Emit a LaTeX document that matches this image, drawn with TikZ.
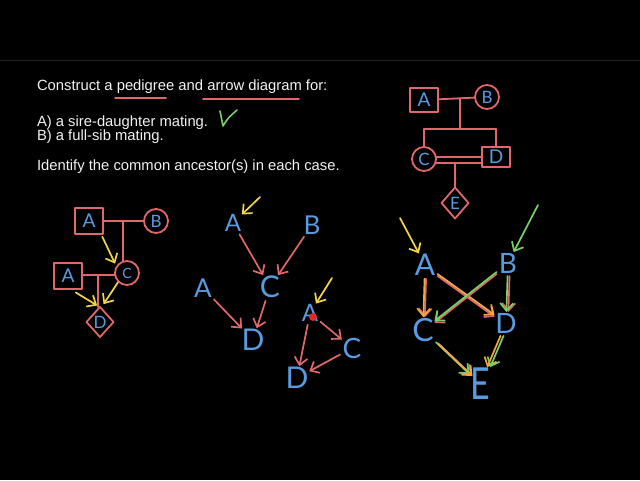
\documentclass[tikz,border=0pt]{standalone}
\usepackage{fontspec}
\usepackage{graphicx}
\setmainfont{Liberation Sans}
\newfontfamily\thinfont{Lato}
\usetikzlibrary{arrows.meta,shapes.geometric,calc}
\definecolor{pred}{HTML}{E0676A}
\definecolor{pblue}{HTML}{5A9BE0}
\definecolor{pyel}{HTML}{F2D54A}
\definecolor{pgreen}{HTML}{78D068}
\definecolor{porange}{HTML}{F2A845}
\definecolor{dotred}{HTML}{E02828}
\definecolor{txtw}{HTML}{F2F2F2}
\definecolor{edge}{HTML}{1E1E1E}
\begin{document}
\begin{tikzpicture}[x=1pt,y=-1pt,
  every node/.style={inner sep=0pt,outer sep=0pt},
  txt/.style={anchor=base west,text=txtw,font=\fontsize{14.8}{17}\selectfont},
  ltr/.style={text=pblue,font=\thinfont\fontsize{#1}{#1}\selectfont},
  ltr/.default=24,
  pline/.style={draw=pred,line width=1.8pt,line cap=round,line join=round},
  psq/.style={pline,rectangle,text=pblue,font=\thinfont\fontsize{19}{19}\selectfont},
  pcirc/.style={pline,circle,text=pblue,font=\thinfont\fontsize{17}{17}\selectfont},
  pdia/.style={pline,diamond,text=pblue,font=\thinfont\fontsize{17}{17}\selectfont},
  arr/.style={-{Straight Barb[length=7.5pt,width=13pt]},line width=1.7pt,line cap=round,line join=round,shorten <=3pt,shorten >=1pt},
  rarr/.style={arr,draw=pred},
  yarr/.style={arr,draw=pyel},
  garr/.style={arr,draw=pgreen},
  oarr/.style={arr,draw=porange},
]
\useasboundingbox (0,0) rectangle (640,480);
\fill[black] (0,0) rectangle (640,480);
\draw[edge,line width=0.8pt] (0,60.5) -- (640,60.5);

% ---- text ----
\node[txt] (t1) at (37,90.5) {Construct a pedigree and arrow diagram for:};
\node[txt] (t2) at (37,126) {A) a sire-daughter mating.};
\node[txt] (t3) at (37,140) {B) a full-sib mating.};
\node[txt] (t4) at (37,170) {Identify the common ancestor(s) in each case.};
\coordinate (u1a) at (115,98); \coordinate (u1b) at (166,98);
\coordinate (u2a) at (203,99); \coordinate (u2b) at (299,99);
\draw[pline,line width=1.6pt] (u1a) -- (u1b);
\draw[pline,line width=1.6pt] (u2a) -- (u2b);
\coordinate (k1) at (220,111); \coordinate (k2) at (223,126); \coordinate (k3) at (237,110);
\draw[pgreen,line width=1.6pt,line cap=round,line join=round] (k1) .. controls (221,118) .. (k2) .. controls (228,118) .. (k3);

% ---- left pedigree ----
\node[psq,minimum width=28pt,minimum height=26pt] (LA) at (89,221) {A};
\node[pcirc,minimum size=24pt] (LB) at (156,221) {B};
\node[pcirc,minimum size=24pt,font=\thinfont\fontsize{14}{14}\selectfont] (LC) at (127,273) {C};
\node[psq,minimum width=28pt,minimum height=26pt] (LA2) at (68,276) {A};
\node[pdia,minimum width=27pt,minimum height=30pt] (LD) at (100,322) {D};
\coordinate (m1) at (123,221);
\coordinate (m2) at (98,275);
\draw[pline] (LA) -- (LB);
\draw[pline] (m1) -- (m1 |- LC.north);
\draw[pline] (LA2.east |- m2) -- (LC.west |- m2);
\draw[pline] (m2) -- (m2 |- LD.north);
\draw[yarr] ([xshift=-2pt]LA.south east) -- ([xshift=-3pt]LC.north west);
\draw[yarr,shorten <=1pt] (LC.south west) -- ([xshift=3pt,yshift=2pt]LD.north);
\draw[yarr,shorten <=1pt] ([xshift=7pt,yshift=-3pt]LA2.south) -- ([xshift=-2pt,yshift=1pt]LD.north);

% ---- middle arrow diagrams ----
\node[ltr] (MA) at (233,223) {A};
\node[ltr=26] (MB) at (312,225) {B};
\node[ltr=26] (MA2) at (203,288) {A};
\node[ltr=30] (MC) at (270,287) {C};
\node[ltr=30] (MD) at (253,340) {D};
\coordinate (inMA) at (260,197);
\draw[yarr,shorten <=0pt] (inMA) -- (MA);
\draw[rarr] (MA) -- (MC);
\draw[rarr] (MB) -- (MC);
\draw[rarr] (MA2) -- (MD);
\draw[rarr] (MC) -- (MD);

\node[ltr] (TA) at (310,313) {A};
\node[ltr=28] (TC) at (352,348) {C};
\node[ltr=30] (TD) at (297,378) {D};
\node[circle,fill=dotred,minimum size=8pt] (dot) at (313,317) {};
\coordinate (inTA) at (332,278);
\draw[yarr,shorten <=0pt] (inTA) -- (TA);
\draw[rarr] (TA) -- (TC);
\draw[rarr] (TA) -- (TD);
\draw[rarr] (TC) -- (TD);

% ---- right pedigree ----
\node[psq,minimum width=28pt,minimum height=24pt] (RA) at (424,100) {A};
\node[pcirc,minimum size=24pt] (RB) at (487,97) {B};
\node[pcirc,minimum size=24pt] (RC) at (424,159) {C};
\node[psq,minimum width=28pt,minimum height=20pt] (RD) at (496,157) {D};
\node[pdia,minimum width=27pt,minimum height=31pt] (RE) at (455,203) {E};
\coordinate (m3) at (460,99);
\coordinate (s1) at (460,129);
\coordinate (m4) at (455,163);
\draw[pline] (RA) -- (RB);
\draw[pline] (m3) -- (s1);
\draw[pline] (RC.north |- s1) -- (RD.north |- s1);
\draw[pline] (RC.north |- s1) -- (RC.north);
\draw[pline] (RD.north |- s1) -- (RD.north);
\draw[pline] ([yshift=2pt]RC.east) -- ([yshift=2pt]RC.east -| RD.west);
\draw[pline] ([yshift=-4pt]RC.east) -- ([yshift=-4pt]RC.east -| RD.west);
\draw[pline] (m4) -- (m4 |- RE.north);

% ---- right arrow diagram ----
\node[ltr=30] (NA) at (425,265) {A};
\node[ltr=28] (NB) at (508,263) {B};
\node[ltr=32] (NC) at (423,330) {C};
\node[ltr=28] (ND) at (506,323) {D};
\node[ltr=34] (NE) at (480,384) {\scalebox{1}[1.3]{E}};
\coordinate (inNA) at (400,218);
\coordinate (inNB) at (538,205);
\draw[yarr,shorten <=0pt] (inNA) -- (NA);
\draw[garr,shorten <=0pt] (inNB) -- (NB);
\draw[rarr,transform canvas={xshift=1.5pt}] (NA) -- (NC);
\draw[oarr] (NA) -- (NC);
\draw[rarr,transform canvas={yshift=-2pt}] (NA) -- (ND);
\draw[oarr] (NA) -- (ND);
\draw[rarr,transform canvas={yshift=-2pt}] (NB) -- (NC);
\draw[garr] (NB) -- (NC);
\draw[rarr,transform canvas={xshift=2pt}] (NB) -- (ND);
\draw[garr] (NB) -- (ND);
\draw[rarr,transform canvas={xshift=2pt,yshift=-1pt}] (NC) -- (NE);
\draw[garr] (NC) -- (NE);
\draw[oarr,transform canvas={xshift=3pt,yshift=-2pt}] (NC) -- (NE);
\draw[oarr] (ND) -- (NE);
\draw[garr,transform canvas={xshift=3pt}] (ND) -- (NE);
\end{tikzpicture}
\end{document}
